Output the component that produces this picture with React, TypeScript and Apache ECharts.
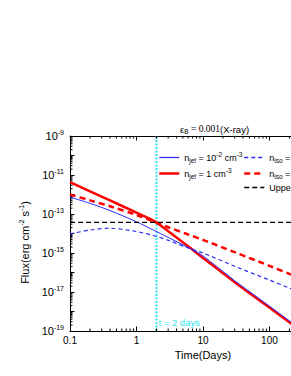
import React, { useEffect, useRef } from "react";
import * as echarts from "echarts";

// Time (days) sample points
const times = [0.1, 0.2, 0.4, 1, 1.8, 3, 6, 10, 30, 100, 200, 400];
// Flux (erg cm^-2 s^-1)
const jetLow = [7.4e-13, 3.5e-13, 1.5e-13, 4.0e-14, 1.5e-14, 6.3e-15, 1.9e-15, 7.1e-16, 3.8e-17, 1.9e-18, 3.3e-19, 5.6e-20];
const jetHigh = [4.3e-12, 1.45e-12, 5.0e-13, 1.17e-13, 4.6e-14, 1.32e-14, 2.2e-15, 5.6e-16, 3.2e-17, 1.6e-18, 2.8e-19, 5.0e-20];
const isoLow = [9.5e-15, 1.5e-14, 1.86e-14, 1.26e-14, 7.9e-15, 4.5e-15, 1.8e-15, 1.0e-15, 2.1e-16, 4.1e-17, 1.6e-17, 6.5e-18];
const isoHigh = [1.0e-12, 5.0e-13, 2.5e-13, 8.9e-14, 4.2e-14, 2.1e-14, 8.9e-15, 4.7e-15, 1.1e-15, 2.2e-16, 8.5e-17, 3.5e-17];
const upperLimit = 3.7e-14;
const markTime = 2;

const xRange = [0.1, 1000];
const yRange = [1e-19, 1e-9];
const minorMultipliers = [2, 3, 4, 5, 6, 7, 8, 9];
const xDecades = [0.1, 1, 10, 100];
const yDecades = [1e-19, 1e-18, 1e-17, 1e-16, 1e-15, 1e-14, 1e-13, 1e-12, 1e-11, 1e-10];

const legendTexts: Record<string, string> = {
  jetLow: "{n|n}{sub|jet}{n| = 10}{sup|-2}{n| cm}{sup|-3}",
  jetHigh: "{n|n}{sub|jet}{n| = 1 cm}{sup|-3}",
  isoLow: "{n|n}{sub|iso}{n| = 10}{sup|-2}{n| cm}{sup|-3}",
  isoHigh: "{n|n}{sub|iso}{n| = 1 cm}{sup|-3}",
  upper: "{n|Upper limit}",
};

const FONT = "Liberation Sans";
const CYAN = "#2ee6f0";
const BLUE = "#2a2aff";
const RED = "#ff0000";

export default function App() {
  const ref = useRef<HTMLDivElement>(null);
  useEffect(() => {
    if (!ref.current) return;
    const chart = echarts.init(ref.current, null, { renderer: "svg" });
    const pairs = (ys: number[]) => times.map((t, i) => [t, ys[i]]);
    const xMinor: number[][] = [];
    xDecades.forEach((d) => minorMultipliers.forEach((m) => xMinor.push([d * m, yRange[0]])));
    const yMinor: number[][] = [];
    yDecades.forEach((d) => minorMultipliers.forEach((m) => yMinor.push([xRange[0], d * m])));

    const legendRich = {
      n: { fontSize: 9, fontFamily: FONT, color: "#000" },
      sub: { fontSize: 6.5, fontFamily: FONT, color: "#000", padding: [5, 0, 0, 0] },
      sup: { fontSize: 6.5, fontFamily: FONT, color: "#000", padding: [0, 0, 6, 0] },
    };
    const legendCommon = {
      orient: "vertical",
      top: 146,
      itemWidth: 20,
      itemHeight: 10,
      itemGap: 3.5,
      itemStyle: { color: "transparent", borderColor: "transparent", borderWidth: 0, opacity: 0 },
      formatter: (name: string) => legendTexts[name],
      textStyle: { rich: legendRich },
    };

    const option: any = {
      animation: false,
      backgroundColor: "#fff",
      title: {
        text: "{e|ε}{sub|B}{s| = 0.001}{n|(X-ray)}",
        left: 175,
        top: 118,
        textStyle: {
          fontWeight: "normal",
          rich: {
            e: { fontSize: 9.5, fontFamily: FONT, color: "#000", fontWeight: "normal" },
            sub: { fontSize: 6.5, fontFamily: FONT, color: "#000", fontWeight: "normal", padding: [5, 0, 0, 0] },
            s: { fontSize: 9.5, fontFamily: "Liberation Serif", color: "#000", fontWeight: "normal" },
            n: { fontSize: 9.5, fontFamily: FONT, color: "#000", fontWeight: "normal" },
          },
        },
      },
      legend: [
        {
          ...legendCommon,
          data: [
            { name: "jetLow", lineStyle: { width: 1.2, color: BLUE } },
            { name: "jetHigh", lineStyle: { width: 2.5, color: RED } },
          ],
          left: 153,
        },
        {
          ...legendCommon,
          data: [
            { name: "isoLow", lineStyle: { width: 1.3, color: BLUE } },
            { name: "isoHigh", lineStyle: { width: 2.5, color: RED } },
            { name: "upper", lineStyle: { width: 1.3, color: "#000" } },
          ],
          left: 238,
        },
      ],
      grid: { left: 70, top: 136, width: 266, height: 195 },
      xAxis: [
        {
          type: "log",
          logBase: 10,
          min: xRange[0],
          max: xRange[1],
          name: "Time(Days)",
          nameLocation: "middle",
          nameGap: 15,
          nameTextStyle: { fontFamily: FONT, fontSize: 11, color: "#000" },
          axisLine: { lineStyle: { color: "#000", width: 1 } },
          axisTick: { inside: true, length: 4.5, lineStyle: { color: "#000" } },
          splitLine: { show: false },
          axisLabel: {
            fontFamily: FONT,
            fontSize: 10,
            color: "#000",
            margin: 4,
            formatter: (v: number) => (v < 1 ? "0.1" : String(Math.round(v))),
          },
        },
        {
          type: "log",
          logBase: 10,
          position: "top",
          min: xRange[0],
          max: xRange[1],
          axisLine: { lineStyle: { color: "#000", width: 1 } },
          axisTick: { inside: true, length: 4.5, lineStyle: { color: "#000" } },
          axisLabel: { show: false },
          splitLine: { show: false },
        },
      ],
      yAxis: {
        type: "log",
        logBase: 10,
        min: yRange[0],
        max: yRange[1],
        interval: 1,
        name: "{n|Flux(erg cm}{sup|-2}{n| s}{sup|-1}{n|)}",
        nameLocation: "middle",
        nameGap: 26,
        nameRotate: 90,
        nameTextStyle: {
          padding: [0, 18, 0, 0],
          rich: {
            n: { fontSize: 11, fontFamily: FONT, color: "#000" },
            sup: { fontSize: 7, fontFamily: FONT, color: "#000", padding: [0, 0, 7, 0] },
          },
        },
        axisLine: { lineStyle: { color: "#000", width: 1 } },
        axisTick: { inside: true, length: 4.5, lineStyle: { color: "#000" } },
        splitLine: { show: false },
        axisLabel: {
          margin: 6,
          formatter: (v: number) => {
            const e = Math.round(Math.log10(v));
            if (e % 2 === 0) return "";
            return `{b|10}{sup|${e}}`;
          },
          rich: {
            b: { fontSize: 11, fontFamily: FONT, color: "#000" },
            sup: { fontSize: 7, fontFamily: FONT, color: "#000", padding: [0, 0, 7, 0] },
          },
        },
      },
      series: [
        {
          name: "ticksX",
          type: "custom",
          silent: true,
          data: xMinor,
          renderItem: (_p: any, api: any) => {
            const b = api.coord([api.value(0), yRange[0]]);
            const t = api.coord([api.value(0), yRange[1]]);
            return {
              type: "group",
              children: [
                { type: "line", shape: { x1: b[0], y1: b[1], x2: b[0], y2: b[1] - 2.5 }, style: { stroke: "#000", lineWidth: 1 } },
                { type: "line", shape: { x1: t[0], y1: t[1], x2: t[0], y2: t[1] + 2.5 }, style: { stroke: "#000", lineWidth: 1 } },
              ],
            };
          },
        },
        {
          name: "ticksY",
          type: "custom",
          silent: true,
          data: yMinor,
          renderItem: (_p: any, api: any) => {
            const p = api.coord([xRange[0], api.value(1)]);
            return { type: "line", shape: { x1: p[0], y1: p[1], x2: p[0] + 2.5, y2: p[1] }, style: { stroke: "#000", lineWidth: 1 } };
          },
        },
        {
          name: "tline",
          type: "line",
          silent: true,
          symbol: "none",
          data: [[markTime, yRange[0]], [markTime, yRange[1]]],
          lineStyle: { color: CYAN, width: 2, type: [2, 1.5] },
          z: 1,
        },
        {
          name: "jetHigh",
          type: "line",
          symbol: "none",
          smooth: 0.3,
          data: pairs(jetHigh),
          color: RED,
          lineStyle: { color: RED, width: 2.5 },
          z: 3,
        },
        {
          name: "isoHigh",
          type: "line",
          symbol: "none",
          smooth: 0.3,
          data: pairs(isoHigh),
          color: RED,
          lineStyle: { color: RED, width: 2.5, type: [6, 4] },
          z: 3,
        },
        {
          name: "jetLow",
          type: "line",
          symbol: "none",
          smooth: 0.3,
          data: pairs(jetLow),
          color: BLUE,
          lineStyle: { color: BLUE, width: 1 },
          z: 4,
        },
        {
          name: "isoLow",
          type: "line",
          symbol: "none",
          smooth: 0.3,
          data: pairs(isoLow),
          color: BLUE,
          lineStyle: { color: BLUE, width: 1.2, type: [4, 3] },
          z: 4,
        },
        {
          name: "upper",
          type: "line",
          symbol: "none",
          data: [[xRange[0], upperLimit], [xRange[1], upperLimit]],
          color: "#000",
          lineStyle: { color: "#000", width: 1.3, type: [5, 3] },
          z: 4,
        },
      ],
    };
    chart.setOption(option);
    const p = chart.convertToPixel({ gridIndex: 0 }, [markTime, yRange[0]]) as number[];
    chart.setOption({
      graphic: [
        {
          type: "text",
          x: p[0] + 2,
          y: p[1] - 9,
          style: { text: "t = 2 days", fill: CYAN, fontSize: 9.5, fontFamily: FONT, textVerticalAlign: "middle" },
        },
      ],
    });
    return () => chart.dispose();
  }, []);
  return (
    <div style={{ position: "fixed", left: 0, top: 0, width: 291, height: 376, overflow: "hidden", background: "#fff" }}>
      <div ref={ref} style={{ width: 350, height: 376 }} />
    </div>
  );
}
